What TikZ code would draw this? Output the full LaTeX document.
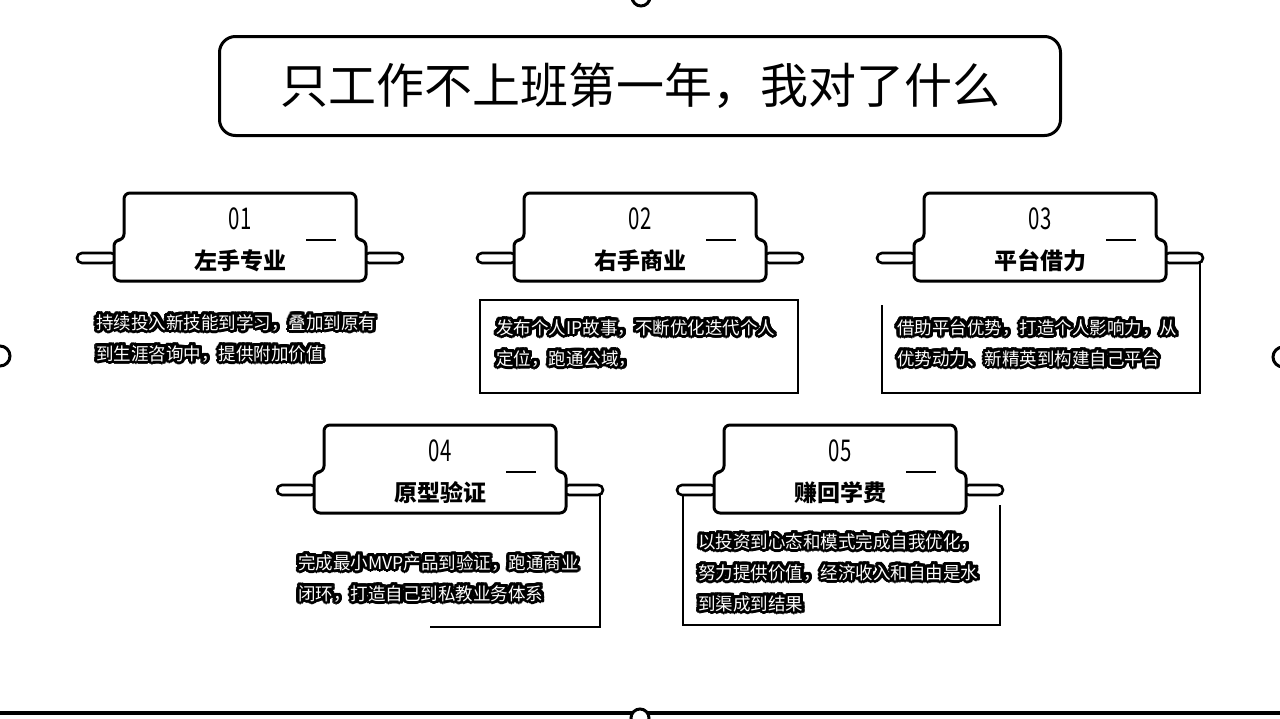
\documentclass[tikz,border=0pt]{standalone}
\usepackage{fontspec}
\usepackage{graphicx}
\usepackage{contour}
\newfontfamily\cjk{Noto Sans CJK SC}
\usetikzlibrary{calc,positioning}

\contourlength{1.5pt}
\contournumber{32}
\newcommand{\halo}[1]{{\color{white}\contour{black}{#1}}}

\begin{document}
\begin{tikzpicture}[
    x=0.5pt, y=-0.5pt,
    titlebox/.style={rectangle, draw=black, line width=1.5pt, rounded corners=8pt, minimum width=420.5pt, minimum height=49.5pt, font=\cjk\fontsize{24}{26}\selectfont},
    cardline/.style={draw=black, line width=1.5pt, fill=white, rounded corners=3pt, line join=round},
    pinbar/.style={draw=black, line width=1.3pt, fill=white, rounded corners=2.5pt},
    numtext/.style={font=\cjk\fontsize{15}{15}\selectfont, inner sep=0pt},
    labeltext/.style={font=\cjk\bfseries\fontsize{11.5}{12}\selectfont, inner sep=0pt},
    bodytext/.style={font=\cjk\fontsize{8.75}{15.5}\selectfont, align=left, inner sep=0pt, anchor=base west},
    bodyframe/.style={draw=black, line width=0.6pt},
    tabcard/.pic={
        \draw[pinbar] (-163,60) rectangle (-124,70);
        \draw[pinbar] (124,60) rectangle (163,70);
        \draw[cardline] (-116,0) -- (116,0) -- (116,47) -- (126,47) -- (126,88) -- (-126,88) -- (-126,47) -- (-116,47) -- cycle;
        \draw[line width=0.8pt] (66,47) -- (96,47);
    },
]
\useasboundingbox (0,0) rectangle (1280,718);

% === PAGE EDGE ===
\draw[line width=2pt] (0,713) -- (1280,713);
\draw[line width=1.5pt, fill=white] (640,718) circle[radius=4.5pt];
\draw[line width=1.5pt, fill=white] (641,-3) circle[radius=4.5pt];
\draw[line width=1.5pt, fill=white] (0,356) circle[radius=5pt];
\draw[line width=1.5pt, fill=white] (1283,357) circle[radius=5pt];

% === TITLE ===
\node[titlebox] (title) at (640,86) {只工作不上班第一年，我对了什么};

% === CARD ANCHORS ===
\coordinate (c1) at (240,193);
\coordinate (c2) at (640,193);
\coordinate (c3) at (1040,193);
\coordinate (c4) at (440,425);
\coordinate (c5) at (840,425);

% === BODY FRAMES ===
\draw[bodyframe] ($(c2)+(-160,107)$) rectangle ($(c2)+(158,200)$);
\draw[bodyframe] ($(c3)+(-158,112)$) -- ($(c3)+(-158,200)$) -- ($(c3)+(160,200)$) -- ($(c3)+(160,66)$);
\draw[bodyframe] ($(c4)+(-10,202)$) -- ($(c4)+(160,202)$) -- ($(c4)+(160,66)$);
\draw[bodyframe] ($(c5)+(-157,70)$) -- ($(c5)+(-157,200)$) -- ($(c5)+(160,200)$) -- ($(c5)+(160,80)$);

% === CARD 01 ===
\pic at (c1) {tabcard};
\node[numtext] (num1) at ($(c1)+(0,26)$) {\scalebox{0.68}[1]{01}};
\node[labeltext] (lab1) at ($(c1)+(0,68)$) {左手专业};
\node[bodytext] (body1) at ($(c1)+(-144,167)$) {\halo{持续投入新技能到学习，叠加到原有}\\\halo{到生涯咨询中，提供附加价值}};

% === CARD 02 ===
\pic at (c2) {tabcard};
\node[numtext] (num2) at ($(c2)+(0,26)$) {\scalebox{0.68}[1]{02}};
\node[labeltext] (lab2) at ($(c2)+(0,68)$) {右手商业};
\node[bodytext] (body2) at ($(c2)+(-144,172)$) {\halo{发布个人IP故事，不断优化迭代个人}\\\halo{定位，跑通公域，}};

% === CARD 03 ===
\pic at (c3) {tabcard};
\node[numtext] (num3) at ($(c3)+(0,26)$) {\scalebox{0.68}[1]{03}};
\node[labeltext] (lab3) at ($(c3)+(0,68)$) {平台借力};
\node[bodytext] (body3) at ($(c3)+(-143,172)$) {\halo{借助平台优势，打造个人影响力，从}\\\halo{优势动力、新精英到构建自己平台}};

% === CARD 04 ===
\pic at (c4) {tabcard};
\node[numtext] (num4) at ($(c4)+(0,26)$) {\scalebox{0.68}[1]{04}};
\node[labeltext] (lab4) at ($(c4)+(0,68)$) {原型验证};
\node[bodytext] (body4) at ($(c4)+(-142,175)$) {\halo{完成最小MVP产品到验证，跑通商业}\\\halo{闭环，打造自己到私教业务体系}};

% === CARD 05 ===
\pic at (c5) {tabcard};
\node[numtext] (num5) at ($(c5)+(0,26)$) {\scalebox{0.68}[1]{05}};
\node[labeltext] (lab5) at ($(c5)+(0,68)$) {赚回学费};
\node[bodytext] (body5) at ($(c5)+(-142,185)$) {\halo{以投资到心态和模式完成自我优化，}\\\halo{努力提供价值，经济收入和自由是水}\\\halo{到渠成到结果}};

\end{tikzpicture}
\end{document}
